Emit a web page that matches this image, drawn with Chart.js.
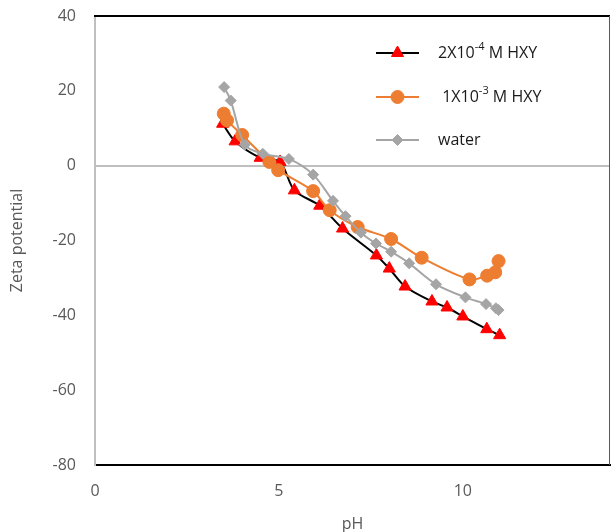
<!DOCTYPE html>
<html>
<head>
<meta charset="utf-8">
<title>Zeta potential vs pH</title>
<script src="https://cdn.jsdelivr.net/npm/chart.js@4.4.1/dist/chart.umd.min.js"></script>
<style>
    html, body { margin: 0; padding: 0; background: #fff; }
    #wrap { width: 611px; height: 532px; }
</style>
</head>
<body>
<div id="wrap"><canvas id="zetaChart" width="611" height="532"></canvas></div>
<script>
// Axis ticks
const xTicks = [0, 5, 10];
const yTicks = [-80, -60, -40, -20, 0, 20, 40];

// 2X10-4 M HXY
const hxyLowPH = [3.47, 3.81, 4.49, 5.03, 5.42, 6.11, 6.73, 7.65, 8.0, 8.43, 9.16, 9.57, 10.0, 10.65, 11.0];
const hxyLowZeta = [11.2, 6.5, 2.1, 1.0, -6.6, -10.7, -16.8, -24.0, -27.5, -32.3, -36.3, -37.9, -40.3, -43.7, -45.3];

// 1X10-3 M HXY
const hxyHighPH = [3.5, 3.59, 4.0, 4.74, 4.98, 5.93, 6.38, 7.14, 8.05, 8.88, 10.18, 10.66, 10.88, 10.97];
const hxyHighZeta = [13.9, 12.1, 8.2, 1.0, -1.2, -6.8, -11.9, -16.4, -19.6, -24.6, -30.4, -29.4, -28.5, -25.5];

// water
const waterPH = [3.51, 3.69, 4.07, 4.56, 5.27, 5.93, 6.47, 6.81, 7.23, 7.64, 8.05, 8.54, 9.27, 10.07, 10.63, 10.9, 10.97];
const waterZeta = [21.0, 17.4, 5.6, 3.2, 1.8, -2.4, -9.4, -13.5, -17.9, -20.8, -23.0, -26.1, -31.7, -35.2, -37.0, -38.1, -38.6];

// legend text: [base, superscript, rest]
const legendText = [
    ['2X10', '-4', ' M HXY'],
    [' 1X10', '-3', ' M HXY'],
    ['water', '', '']
];

const FONT = "'Open Sans', 'Liberation Sans', sans-serif";

function toPoints(xs, ys) {
    return xs.map((x, i) => ({ x: x, y: ys[i] }));
}

// plot frame: black top edge, dark right edge
const frame = {
    id: 'frame',
    beforeDatasetsDraw(chart) {
        const { ctx, chartArea: a } = chart;
        ctx.save();
        ctx.strokeStyle = '#000';
        ctx.lineWidth = 2;
        ctx.beginPath();
        ctx.moveTo(a.left - 1, a.top);
        ctx.lineTo(a.right, a.top);
        ctx.stroke();
        ctx.strokeStyle = '#595959';
        ctx.lineWidth = 1;
        ctx.beginPath();
        ctx.moveTo(a.right - 0.5, a.top);
        ctx.lineTo(a.right - 0.5, a.bottom);
        ctx.stroke();
        ctx.restore();
    }
};

// legend inside the plot: line sample with marker, label with superscript
const insideLegend = {
    id: 'insideLegend',
    afterDraw(chart) {
        const ctx = chart.ctx;
        const lineX = 376, lineLen = 43, textX = 438;
        const rowY = [53, 97, 140];
        ctx.save();
        chart.data.datasets.forEach((ds, i) => {
            const y = rowY[i];
            ctx.strokeStyle = ds.borderColor;
            ctx.lineWidth = 2;
            ctx.beginPath();
            ctx.moveTo(lineX, y);
            ctx.lineTo(lineX + lineLen, y);
            ctx.stroke();
            ctx.fillStyle = ds.pointBackgroundColor;
            ctx.strokeStyle = ds.pointBorderColor;
            ctx.lineWidth = 1;
            Chart.helpers.drawPoint(ctx, {
                pointStyle: ds.pointStyle,
                radius: ds.pointRadius,
                rotation: 0,
                borderWidth: 1
            }, lineX + lineLen / 2, y);

            const parts = legendText[i];
            ctx.fillStyle = '#1a1a1a';
            ctx.textBaseline = 'middle';
            ctx.textAlign = 'left';
            let x = textX;
            ctx.font = '16px ' + FONT;
            ctx.fillText(parts[0], x, y);
            x += ctx.measureText(parts[0]).width;
            if (parts[1]) {
                ctx.font = '11px ' + FONT;
                ctx.fillText(parts[1], x, y - 6);
                x += ctx.measureText(parts[1]).width;
            }
            ctx.font = '16px ' + FONT;
            ctx.fillText(parts[2], x, y);
        });
        ctx.restore();
    }
};

const ctx = document.getElementById('zetaChart').getContext('2d');

new Chart(ctx, {
    type: 'line',
    data: {
        datasets: [{
            label: '2X10-4 M HXY',
            data: toPoints(hxyLowPH, hxyLowZeta),
            borderColor: '#000000',
            borderWidth: 2,
            pointStyle: 'triangle',
            pointRadius: 7,
            pointBackgroundColor: '#ff0000',
            pointBorderColor: '#ff0000',
            pointBorderWidth: 1,
            tension: 0.3,
            order: 2
        }, {
            label: '1X10-3 M HXY',
            data: toPoints(hxyHighPH, hxyHighZeta),
            borderColor: '#ed7d31',
            borderWidth: 2,
            pointStyle: 'circle',
            pointRadius: 6.5,
            pointBackgroundColor: '#ed7d31',
            pointBorderColor: '#ed7d31',
            pointBorderWidth: 1,
            tension: 0.3,
            order: 1
        }, {
            label: 'water',
            data: toPoints(waterPH, waterZeta),
            borderColor: '#a5a5a5',
            borderWidth: 2,
            pointStyle: 'rectRot',
            pointRadius: 5.5,
            pointBackgroundColor: '#a5a5a5',
            pointBorderColor: '#a5a5a5',
            pointBorderWidth: 1,
            tension: 0.3,
            order: 0
        }]
    },
    options: {
        responsive: false,
        animation: false,
        layout: { autoPadding: false, padding: { left: 8, right: 1, top: 16, bottom: 0 } },
        plugins: {
            legend: { display: false },
            tooltip: { enabled: false }
        },
        scales: {
            x: {
                type: 'linear',
                position: 'bottom',
                min: 0,
                max: 14,
                afterBuildTicks: (scale) => {
                    scale.ticks = xTicks.map(v => ({ value: v }));
                },
                afterFit: (scale) => {
                    scale.height = 67;
                    scale.paddingLeft = 0;
                    scale.paddingRight = 0;
                },
                grid: { display: false, drawTicks: false },
                border: { color: '#000', width: 2 },
                ticks: {
                    padding: 17,
                    color: '#595959',
                    font: { family: FONT, size: 16 }
                },
                title: {
                    display: true,
                    text: 'pH',
                    color: '#595959',
                    padding: { top: 0, bottom: -2 },
                    font: { family: FONT, size: 16 }
                }
            },
            y: {
                type: 'linear',
                min: -80,
                max: 40,
                afterBuildTicks: (scale) => {
                    scale.ticks = yTicks.map(v => ({ value: v }));
                },
                afterFit: (scale) => {
                    scale.width = 87;
                    scale.paddingTop = 0;
                    scale.paddingBottom = 0;
                },
                grid: {
                    drawTicks: false,
                    lineWidth: 2,
                    color: (c) => (c.tick && c.tick.value === 0 ? '#bfbfbf' : 'rgba(0,0,0,0)')
                },
                border: { color: '#bfbfbf', width: 2 },
                ticks: {
                    padding: 19,
                    color: '#595959',
                    font: { family: FONT, size: 16 }
                },
                title: {
                    display: true,
                    text: 'Zeta potential',
                    color: '#595959',
                    padding: 0,
                    font: { family: FONT, size: 16 }
                }
            }
        }
    },
    plugins: [frame, insideLegend]
});
</script>
</body>
</html>
